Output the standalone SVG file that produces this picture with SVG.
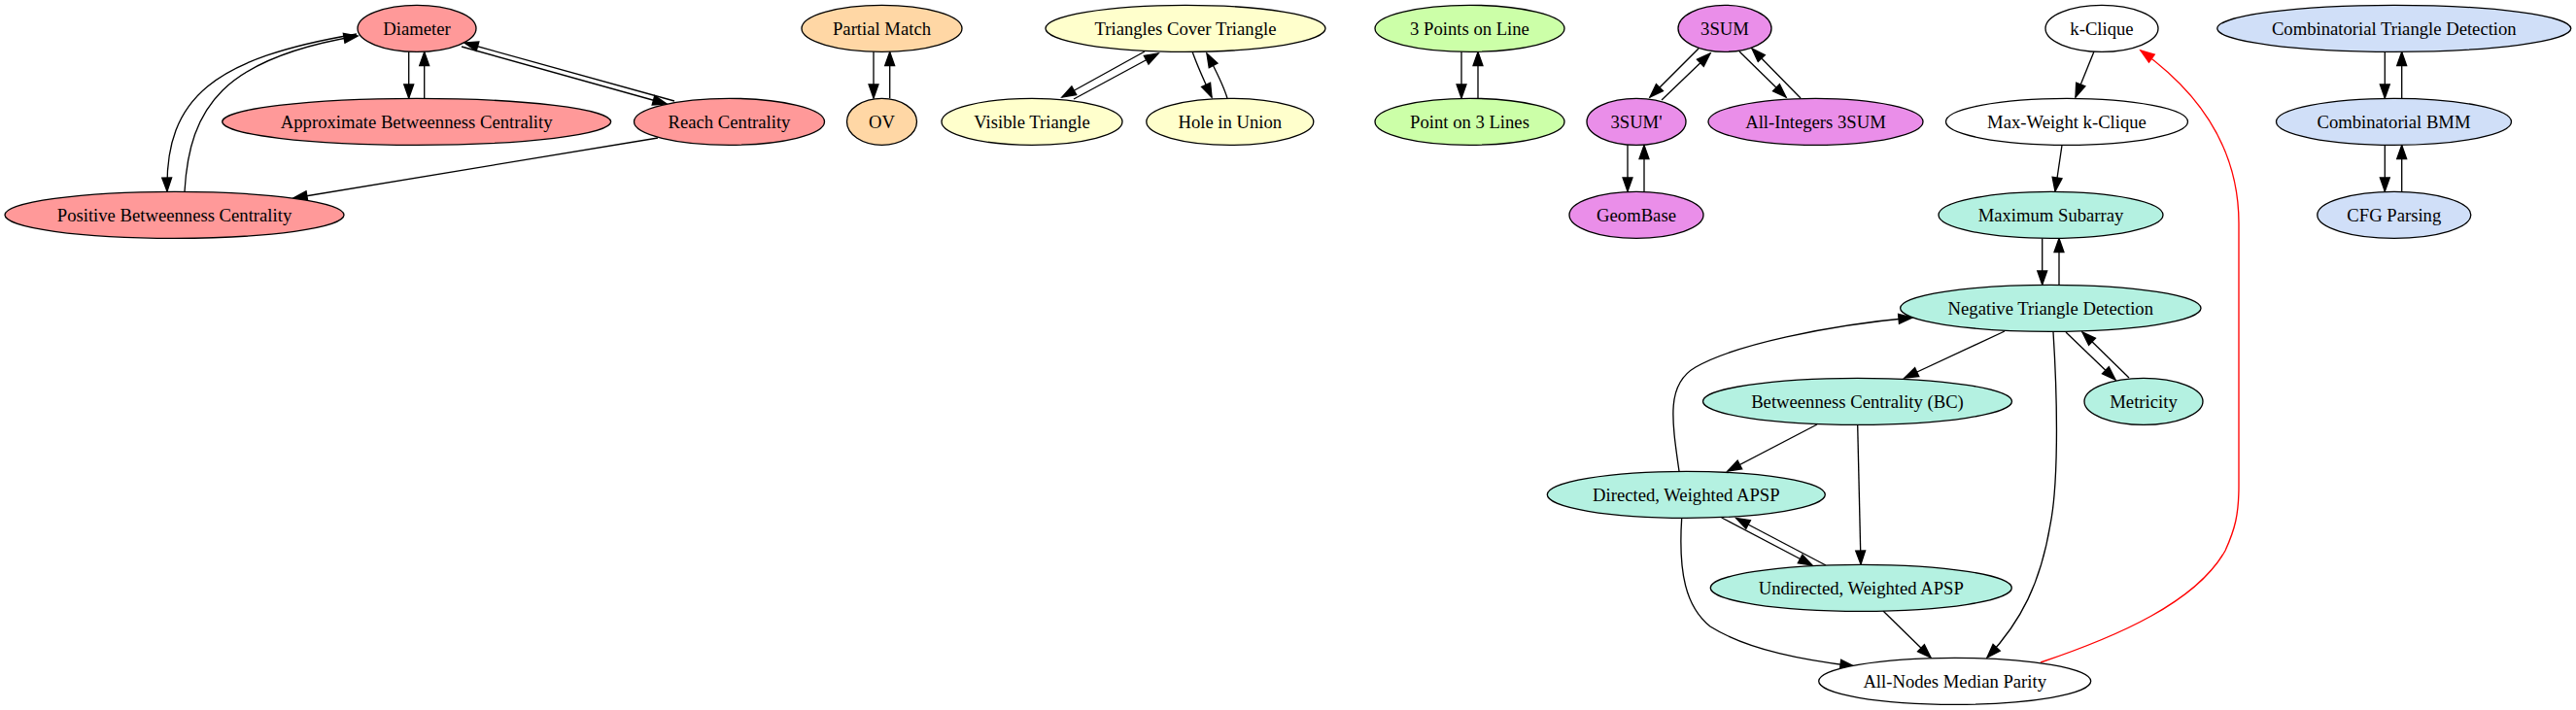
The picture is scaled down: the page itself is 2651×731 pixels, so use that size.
<svg xmlns="http://www.w3.org/2000/svg" width="2651" height="731" viewBox="0 0 2651 731">
<style>
ellipse{stroke:#000;stroke-width:1.33}
text{font-family:"Liberation Serif","Times New Roman",serif;font-size:18.67px;text-anchor:middle;fill:#000}
.r{fill:#ff9999}.o{fill:#ffd7a5}.y{fill:#ffffcc}.g{fill:#ccffa8}.m{fill:#ea8ee9}.t{fill:#b4f1e1}.b{fill:#d0dff8}.w{fill:#fff}
#edges path{fill:none;stroke:#000;stroke-width:1.33;marker-end:url(#a)}
#edges path.red{stroke:#ff0000;marker-end:url(#ar)}
</style>
<defs>
<marker id="a" markerUnits="userSpaceOnUse" markerWidth="14" markerHeight="10" refX="13.33" refY="4.67" orient="auto" viewBox="0 0 13.33 9.33" overflow="visible"><path d="M0,0L13.33,4.67L0,9.33z" fill="#000" stroke="#000" stroke-width="1.33"/></marker>
<marker id="ar" markerUnits="userSpaceOnUse" markerWidth="14" markerHeight="10" refX="13.33" refY="4.67" orient="auto" viewBox="0 0 13.33 9.33" overflow="visible"><path d="M0,0L13.33,4.67L0,9.33z" fill="#ff0000" stroke="#ff0000" stroke-width="1.33"/></marker>
</defs>
<rect width="2651" height="731" fill="#fff"/>
<g id="edges">
<path d="M367,35 C220,60 170,100 172,197"/>
<path d="M190,197 C195,110 230,60 368,37"/>
<path d="M420.7,53.3 L420.7,101"/>
<path d="M436.7,101.3 L436.7,53.5"/>
<path d="M475,48 L686,107"/>
<path d="M694,104 L478,44"/>
<path d="M677,142 L302,204"/>
<path d="M899,53.3 L899,101"/>
<path d="M915.7,101.3 L915.7,53.5"/>
<path d="M1178,53 L1093,100"/>
<path d="M1105,102 L1192,55"/>
<path d="M1227,53 C1233,70 1240,85 1247,100"/>
<path d="M1263,101 C1258,85 1250,70 1242,55"/>
<path d="M1504,53.3 L1504,101"/>
<path d="M1521,101.3 L1521,53.5"/>
<path d="M1748,50 L1698,100"/>
<path d="M1710,103 L1760,55"/>
<path d="M1790,53 L1838,100"/>
<path d="M1853,101 L1803,50"/>
<path d="M1675,149.3 L1675,197"/>
<path d="M1692,197.3 L1692,149.5"/>
<path d="M2454.3,53.3 L2454.3,101"/>
<path d="M2471.7,101.3 L2471.7,53.5"/>
<path d="M2454.3,149.3 L2454.3,197"/>
<path d="M2471.7,197.3 L2471.7,149.5"/>
<path d="M2155,53 L2136,100"/>
<path d="M2122,149.5 L2115,197"/>
<path d="M2101.7,245.5 L2101.7,293"/>
<path d="M2119,293.3 L2119,245.5"/>
<path d="M2063,341 L1960,389"/>
<path d="M1728,485 C1720,430 1715,395 1745,378 C1785,355 1880,335 1968,327"/>
<path d="M1870,437 L1778,485"/>
<path d="M1911.7,438 L1915,581"/>
<path d="M1771.7,533 L1865,582"/>
<path d="M1879,582 L1786.7,533.5"/>
<path d="M1730.7,533.3 C1727,590 1735,625 1760,645 C1800,670 1860,680 1908,686"/>
<path d="M1938,629 L1987,677"/>
<path d="M2113,341.7 C2118,420 2118,500 2110,540 C2100,600 2080,640 2045,677"/>
<path d="M2126,342 L2177,391"/>
<path d="M2191,389 L2143,342"/>
<path class="red" d="M2100,682 C2180,655 2260,620 2290,567 C2300,545 2304,530 2304,500 L2304,230 C2304,160 2270,100 2203,52"/>
</g>
<g id="n_diameter"><ellipse class="r" cx="429" cy="29.33" rx="61" ry="24"/><text x="429" y="35.5">Diameter</text></g>
<g id="n_approx_bc"><ellipse class="r" cx="428.7" cy="125.33" rx="200" ry="24"/><text x="428.7" y="131.5">Approximate Betweenness Centrality</text></g>
<g id="n_reach"><ellipse class="r" cx="750.5" cy="125.33" rx="98" ry="24"/><text x="750.5" y="131.5">Reach Centrality</text></g>
<g id="n_pos_bc"><ellipse class="r" cx="179.5" cy="221.33" rx="174.5" ry="24"/><text x="179.5" y="227.5">Positive Betweenness Centrality</text></g>
<g id="n_partial_match"><ellipse class="o" cx="907.5" cy="29.33" rx="82.5" ry="24"/><text x="907.5" y="35.5">Partial Match</text></g>
<g id="n_ov"><ellipse class="o" cx="907.5" cy="125.33" rx="36" ry="24"/><text x="907.5" y="131.5">OV</text></g>
<g id="n_tct"><ellipse class="y" cx="1220" cy="29.33" rx="144" ry="24"/><text x="1220" y="35.5">Triangles Cover Triangle</text></g>
<g id="n_visible"><ellipse class="y" cx="1062" cy="125.33" rx="93" ry="24"/><text x="1062" y="131.5">Visible Triangle</text></g>
<g id="n_hole"><ellipse class="y" cx="1265.8" cy="125.33" rx="86" ry="24"/><text x="1265.8" y="131.5">Hole in Union</text></g>
<g id="n_3points"><ellipse class="g" cx="1512.5" cy="29.33" rx="97.5" ry="24"/><text x="1512.5" y="35.5">3 Points on Line</text></g>
<g id="n_point3"><ellipse class="g" cx="1512.5" cy="125.33" rx="97.5" ry="24"/><text x="1512.5" y="131.5">Point on 3 Lines</text></g>
<g id="n_3sum"><ellipse class="m" cx="1775" cy="29.33" rx="48" ry="24"/><text x="1775" y="35.5">3SUM</text></g>
<g id="n_3sump"><ellipse class="m" cx="1684" cy="125.33" rx="51" ry="24"/><text x="1684" y="131.5">3SUM'</text></g>
<g id="n_allint"><ellipse class="m" cx="1868.5" cy="125.33" rx="110.5" ry="24"/><text x="1868.5" y="131.5">All-Integers 3SUM</text></g>
<g id="n_geombase"><ellipse class="m" cx="1684" cy="221.33" rx="69" ry="24"/><text x="1684" y="227.5">GeomBase</text></g>
<g id="n_kclique"><ellipse class="w" cx="2163" cy="29.33" rx="58" ry="24"/><text x="2163" y="35.5">k-Clique</text></g>
<g id="n_maxw"><ellipse class="w" cx="2127" cy="125.33" rx="124.5" ry="24"/><text x="2127" y="131.5">Max-Weight k-Clique</text></g>
<g id="n_maxsub"><ellipse class="t" cx="2110.5" cy="221.33" rx="115.5" ry="24"/><text x="2110.5" y="227.5">Maximum Subarray</text></g>
<g id="n_ntd"><ellipse class="t" cx="2110.3" cy="317.33" rx="154.7" ry="24"/><text x="2110.3" y="323.5">Negative Triangle Detection</text></g>
<g id="n_bc"><ellipse class="t" cx="1911.5" cy="413.33" rx="159" ry="24"/><text x="1911.5" y="419.5">Betweenness Centrality (BC)</text></g>
<g id="n_metricity"><ellipse class="t" cx="2206" cy="413.33" rx="61" ry="24"/><text x="2206" y="419.5">Metricity</text></g>
<g id="n_dw"><ellipse class="t" cx="1735.3" cy="509.33" rx="143" ry="24"/><text x="1735.3" y="515.5">Directed, Weighted APSP</text></g>
<g id="n_uw"><ellipse class="t" cx="1915.3" cy="605.33" rx="155" ry="24"/><text x="1915.3" y="611.5">Undirected, Weighted APSP</text></g>
<g id="n_anmp"><ellipse class="w" cx="2011.7" cy="701.33" rx="140" ry="24"/><text x="2011.7" y="707.5">All-Nodes Median Parity</text></g>
<g id="n_ctd"><ellipse class="b" cx="2463.8" cy="29.33" rx="182" ry="24"/><text x="2463.8" y="35.5">Combinatorial Triangle Detection</text></g>
<g id="n_cbmm"><ellipse class="b" cx="2463.5" cy="125.33" rx="121" ry="24"/><text x="2463.5" y="131.5">Combinatorial BMM</text></g>
<g id="n_cfg"><ellipse class="b" cx="2463.8" cy="221.33" rx="79" ry="24"/><text x="2463.8" y="227.5">CFG Parsing</text></g>
</svg>
